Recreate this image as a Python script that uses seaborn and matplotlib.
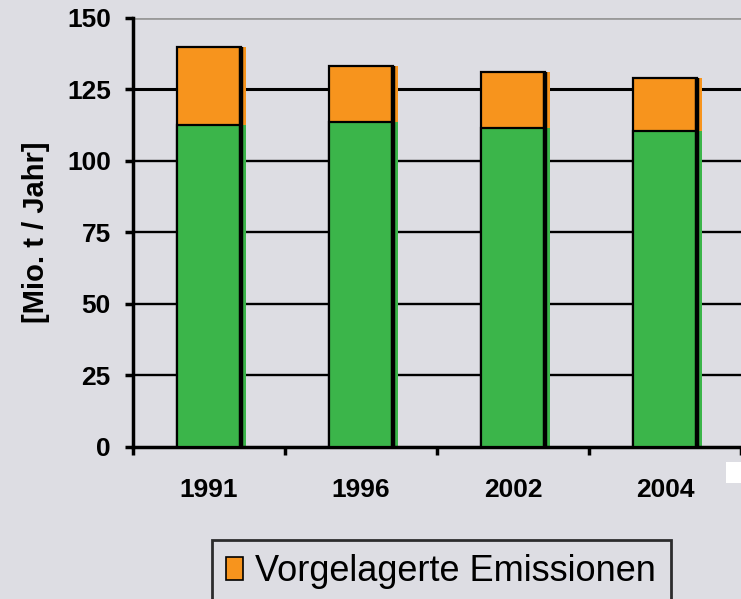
import numpy as np
import pandas as pd
import matplotlib
matplotlib.use('Agg')
import matplotlib.pyplot as plt
import matplotlib.patches as mpatches
import seaborn as sns

# data
years = ['1991', '1996', '2002', '2004']
direct = [112.5, 113.5, 111.5, 110.5]       # green part
upstream = [27.5, 19.7, 19.5, 18.5]          # orange part (Vorgelagerte Emissionen)
yticks = [0, 25, 50, 75, 100, 125, 150]

bg = '#dddde3'
orange = '#f7941d'
green = '#3bb54a'

sns.set_theme(style='white')
plt.rcParams['font.family'] = ['Liberation Sans', 'DejaVu Sans']
plt.rcParams.update({'text.color': 'black', 'axes.labelcolor': 'black',
                     'xtick.color': 'black', 'ytick.color': 'black'})

df = pd.DataFrame({'Jahr': years, 'direkt': direct, 'vorgelagert': upstream})
df['gesamt'] = df.direkt + df.vorgelagert

fig = plt.figure(figsize=(7.41, 5.99), dpi=100, facecolor=bg)
ax = fig.add_axes([0.1795, 0.2538, 0.8205, 0.7162])
ax.set_facecolor(bg)

w = 0.42
strip = 0.035
sns.barplot(data=df, x='Jahr', y='gesamt', color=orange, width=w, saturation=1,
            edgecolor='black', linewidth=1.6, ax=ax, zorder=3)
sns.barplot(data=df, x='Jahr', y='direkt', color=green, width=w, saturation=1,
            edgecolor='black', linewidth=1.6, ax=ax, zorder=3)

# shadow on the right side of each bar
x = np.arange(len(years))
ax.bar(x + w / 2 + strip / 2, df.gesamt, width=strip, color=orange, linewidth=0, zorder=2)
ax.bar(x + w / 2 + strip / 2, df.direkt, width=strip, color=green, linewidth=0, zorder=2)
ax.vlines(x + w / 2, 0, df.gesamt, color='black', lw=3.2, zorder=4)

ax.set_xlim(-0.5, len(years) - 0.5)
ax.set_ylim(0, 150)
ax.set_yticks(yticks)
for t in yticks[1:-1]:
    ax.axhline(t, color='black', lw=2.2 if t == 125 else 1.7, zorder=1)
ax.axhline(150, color='#999999', lw=2, zorder=1)

for s in ['top', 'right']:
    ax.spines[s].set_visible(False)
for s in ['left', 'bottom']:
    ax.spines[s].set_color('black')
    ax.spines[s].set_linewidth(2.5)

ax.set_xticks(x)
ax.set_xticklabels(years)
ax.set_xticks(np.arange(len(years) + 1) - 0.5, minor=True)
ax.tick_params(axis='x', which='major', length=0, pad=22, labelsize=19)
ax.tick_params(axis='x', which='minor', length=6, width=2.5, color='black', direction='out', bottom=True)
ax.tick_params(axis='y', length=6, width=2.5, color='black', direction='out', left=True,
               labelsize=19, pad=10)
for lab in ax.get_xticklabels() + ax.get_yticklabels():
    lab.set_fontweight('bold')

ax.set_xlabel('')
ax.set_ylabel('[Mio. t / Jahr]', fontsize=21, fontweight='bold', labelpad=12)

handle = mpatches.Patch(facecolor=orange, edgecolor='black', linewidth=1.2)
leg = fig.legend([handle], ['Vorgelagerte Emissionen'], loc='upper left',
                 bbox_to_anchor=(212 / 741, 1 - 540 / 599), fontsize=26, frameon=True,
                 fancybox=False, handlelength=0.45, handleheight=0.6, handletextpad=0.35,
                 borderpad=0.4, borderaxespad=0)
leg.get_frame().set_facecolor(bg)
leg.get_frame().set_edgecolor('black')
leg.get_frame().set_linewidth(2)

fig.patches.append(mpatches.Rectangle((726 / 741, 1 - 483 / 599), 15 / 741, 21 / 599,
                                      transform=fig.transFigure, facecolor='white',
                                      edgecolor='none'))

fig.savefig('out.png', dpi=100, facecolor=bg)
